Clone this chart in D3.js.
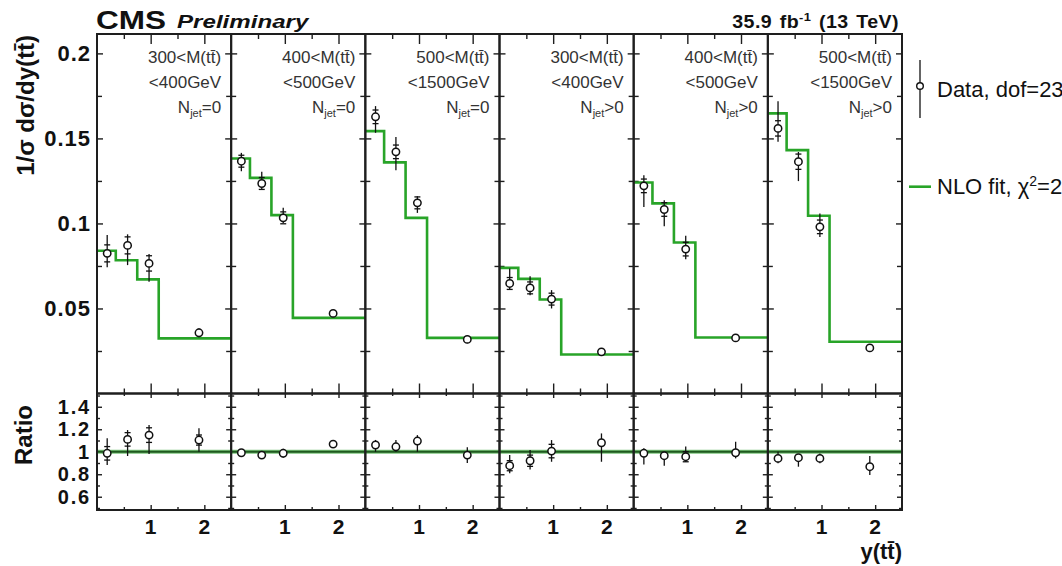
<!DOCTYPE html>
<html>
<head>
<meta charset="utf-8">
<script src="https://cdn.jsdelivr.net/npm/d3@7"></script>
<style>
  body { margin: 0; background: #fff; }
  svg { display: block; }
  text { font-family: "Liberation Sans", Arial, Helvetica, sans-serif; }
</style>
</head>
<body>
<svg id="chart" width="1062" height="566"></svg>
<script>
// ---- data -------------------------------------------------------------
// y(tt̄) bin edges and the positions of the measured points
const binEdges = [0, 0.35, 0.75, 1.15, 2.5];
const pointY = [0.19, 0.57, 0.97, 1.9];

// panel captions
const massLow = ["300", "400", "500", "300", "400", "500"];
const massHigh = ["400", "500", "1500", "400", "500", "1500"];
const njetCut = ["=0", "=0", "=0", ">0", ">0", ">0"];

// NLO fit, one value per bin
const fitValues = [
  [0.0839, 0.0784, 0.0671, 0.0324],
  [0.1382, 0.1268, 0.1049, 0.0445],
  [0.1543, 0.1359, 0.1033, 0.0327],
  [0.0739, 0.0674, 0.0553, 0.0229],
  [0.1241, 0.1118, 0.0888, 0.0329],
  [0.1647, 0.1431, 0.1045, 0.0304]
];

// measured normalised cross sections
const dataValues = [
  [0.0824, 0.0871, 0.0765, 0.0357],
  [0.1366, 0.1235, 0.1033, 0.0471],
  [0.1627, 0.1421, 0.1121, 0.0318],
  [0.0647, 0.0621, 0.0555, 0.0245],
  [0.1221, 0.1082, 0.0849, 0.0327],
  [0.1559, 0.1363, 0.0980, 0.0268]
];
const dataErrUp = [
  [0.0108, 0.0065, 0.0055, 0.0026],
  [0.0049, 0.0069, 0.0059, 0.0012],
  [0.0063, 0.0088, 0.0039, 0.0022],
  [0.0088, 0.0069, 0.0053, 0.0015],
  [0.0063, 0.0055, 0.0078, 0.0015],
  [0.0160, 0.0057, 0.0078, 0.0015]
];
const dataErrDown = [
  [0.0082, 0.0116, 0.0108, 0.0026],
  [0.0059, 0.0039, 0.0030, 0.0012],
  [0.0094, 0.0108, 0.0059, 0.0022],
  [0.0039, 0.0043, 0.0055, 0.0015],
  [0.0124, 0.0098, 0.0059, 0.0015],
  [0.0078, 0.0114, 0.0059, 0.0015]
];
const dataStat = [
  [0.0050, 0.0050, 0.0045, 0.0015],
  [0.0035, 0.0035, 0.0035, 0.0008],
  [0.0040, 0.0040, 0.0035, 0.0008],
  [0.0035, 0.0035, 0.0035, 0.0008],
  [0.0040, 0.0040, 0.0040, 0.0008],
  [0.0045, 0.0045, 0.0040, 0.0008]
];

// data / fit
const ratioValues = [
  [0.986, 1.110, 1.148, 1.104],
  [0.991, 0.970, 0.986, 1.068],
  [1.060, 1.044, 1.095, 0.970],
  [0.876, 0.920, 1.006, 1.080],
  [0.986, 0.965, 0.956, 0.991],
  [0.941, 0.947, 0.941, 0.867]
];
const ratioErrUp = [
  [0.133, 0.083, 0.089, 0.104],
  [0.030, 0.030, 0.040, 0.030],
  [0.045, 0.060, 0.053, 0.070],
  [0.095, 0.095, 0.098, 0.083],
  [0.045, 0.036, 0.090, 0.098],
  [0.060, 0.024, 0.044, 0.095]
];
const ratioErrDown = [
  [0.104, 0.148, 0.169, 0.104],
  [0.030, 0.030, 0.040, 0.030],
  [0.060, 0.045, 0.095, 0.070],
  [0.068, 0.077, 0.095, 0.169],
  [0.100, 0.090, 0.045, 0.050],
  [0.044, 0.080, 0.044, 0.074]
];
const ratioStat = [
  [0.060, 0.060, 0.065, 0.045],
  [0.025, 0.025, 0.035, 0.020],
  [0.030, 0.030, 0.035, 0.030],
  [0.045, 0.050, 0.060, 0.035],
  [0.030, 0.030, 0.045, 0.030],
  [0.030, 0.030, 0.035, 0.030]
];

// axis ticks
const mainMajor = [0.05, 0.1, 0.15, 0.2];
const mainMajorLabels = ["0.05", "0.1", "0.15", "0.2"];
const mainMinor = [0.025, 0.075, 0.125, 0.175];
const ratioMajor = [0.6, 0.8, 1.0, 1.2, 1.4];
const ratioMajorLabels = ["0.6", "0.8", "1", "1.2", "1.4"];
const ratioMinor = [0.5, 0.7, 0.9, 1.1, 1.3, 1.5];
const xMajor = [1, 2];
const xMajorLabels = ["1", "2"];
const xMinor = [0.5, 1.5];

// ---- layout -----------------------------------------------------------
const svg = d3.select("#chart");
const padLeft = 97, padRight = 902;
const padTop = 34, padMid = 393.5, padBottom = 510;
const nPanels = 6;
const pw = (padRight - padLeft) / nPanels;

const frameColor = "#1e1e1e";
const fitColor = "#28a428";

const yMain = d3.scaleLinear().domain([0, 0.2114]).range([padMid, padTop]);
const yRatio = d3.scaleLinear().domain([0.482, 1.518]).range([padBottom, padMid]);
const xPanel = i => d3.scaleLinear().domain([0, 2.5]).range([padLeft + i * pw, padLeft + (i + 1) * pw]);

// inward ticks drawn with d3 axis generators
function tickSet(axisFn, scale, values, size, tx, ty) {
  const g = svg.append("g").attr("transform", `translate(${tx},${ty})`)
    .call(axisFn(scale).tickValues(values).tickSize(size).tickFormat(""));
  g.select(".domain").remove();
  g.selectAll("line").attr("stroke", frameColor).attr("stroke-width", 1.4);
}

function drawPoints(x, y, vals, up, dn, stat) {
  const g = svg.append("g");
  vals.forEach((v, k) => {
    const px = x(pointY[k]);
    const py = y(v);
    g.append("line").attr("x1", px).attr("x2", px)
      .attr("y1", y(v + up[k])).attr("y2", y(v - dn[k]))
      .attr("stroke", "#111").attr("stroke-width", 1.3);
    const sU = y(v + stat[k]), sD = y(v - stat[k]);
    if (py - sU > 4.5) {
      [sU, sD].forEach(sy => g.append("line")
        .attr("x1", px - 3).attr("x2", px + 3).attr("y1", sy).attr("y2", sy)
        .attr("stroke", "#111").attr("stroke-width", 1.3));
    }
    g.append("circle").attr("cx", px).attr("cy", py).attr("r", 3.7)
      .attr("fill", "#fff").attr("stroke", "#111").attr("stroke-width", 1.5);
  });
}

for (let i = 0; i < nPanels; i++) {
  const x = xPanel(i);
  const x0 = x.range()[0], x1 = x.range()[1];

  // y ticks on both sides of each panel
  tickSet(d3.axisRight, yMain, mainMajor, 6, x0, 0);
  tickSet(d3.axisRight, yMain, mainMinor, 5, x0, 0);
  tickSet(d3.axisLeft, yMain, mainMajor, 6, x1, 0);
  tickSet(d3.axisLeft, yMain, mainMinor, 5, x1, 0);
  tickSet(d3.axisRight, yRatio, ratioMajor, 5, x0, 0);
  tickSet(d3.axisRight, yRatio, ratioMinor, 3, x0, 0);
  tickSet(d3.axisLeft, yRatio, ratioMajor, 5, x1, 0);
  tickSet(d3.axisLeft, yRatio, ratioMinor, 3, x1, 0);

  // x ticks
  tickSet(d3.axisBottom, x, xMajor, 10, 0, padTop);
  tickSet(d3.axisBottom, x, xMinor, 5, 0, padTop);
  tickSet(d3.axisTop, x, xMajor, 10, 0, padMid);
  tickSet(d3.axisTop, x, xMinor, 5, 0, padMid);
  tickSet(d3.axisBottom, x, xMajor, 4.5, 0, padMid);
  tickSet(d3.axisBottom, x, xMinor, 2.5, 0, padMid);
  tickSet(d3.axisTop, x, xMajor, 5, 0, padBottom);
  tickSet(d3.axisTop, x, xMinor, 3, 0, padBottom);

  // x tick labels
  svg.append("g").selectAll("text").data(xMajor).join("text")
    .attr("x", d => x(d)).attr("y", 534)
    .attr("text-anchor", "middle")
    .attr("font-size", 21).attr("font-weight", "bold").attr("fill", "#111")
    .text((d, k) => xMajorLabels[k]);

  // NLO fit as a step histogram
  const stepPts = binEdges.map((e, k) => [e, fitValues[i][Math.min(k, fitValues[i].length - 1)]]);
  svg.append("path")
    .attr("d", d3.line().x(d => x(d[0])).y(d => yMain(d[1])).curve(d3.curveStepAfter)(stepPts))
    .attr("fill", "none").attr("stroke", fitColor).attr("stroke-width", 2.6);

  // ratio reference line at unity
  svg.append("line")
    .attr("x1", x0).attr("x2", x1).attr("y1", yRatio(1)).attr("y2", yRatio(1))
    .attr("stroke", "#7cc47c").attr("stroke-width", 4);
  svg.append("line")
    .attr("x1", x0).attr("x2", x1).attr("y1", yRatio(1)).attr("y2", yRatio(1))
    .attr("stroke", "#1f5a1f").attr("stroke-width", 1.8);

  // data points with error bars
  drawPoints(x, yMain, dataValues[i], dataErrUp[i], dataErrDown[i], dataStat[i]);
  drawPoints(x, yRatio, ratioValues[i], ratioErrUp[i], ratioErrDown[i], ratioStat[i]);

  // caption
  const cap = svg.append("text").attr("text-anchor", "end")
    .attr("font-size", 17).attr("fill", "#333");
  const cx = x1 - 10;
  cap.append("tspan").attr("x", cx).attr("y", 63).text(massLow[i] + "<M(tt\u0304)");
  cap.append("tspan").attr("x", cx).attr("y", 87.5).text("<" + massHigh[i] + "GeV");
  const nl = svg.append("text").attr("text-anchor", "end")
    .attr("font-size", 17).attr("fill", "#333").attr("x", cx).attr("y", 112.5);
  nl.append("tspan").text("N");
  nl.append("tspan").attr("font-size", 11).attr("dy", 4).text("jet");
  nl.append("tspan").attr("dy", -4).text(njetCut[i]);
}

// y tick labels
svg.append("g").attr("transform", `translate(${padLeft},0)`)
  .call(d3.axisLeft(yMain).tickValues(mainMajor).tickSize(0).tickPadding(6)
    .tickFormat((d, k) => mainMajorLabels[k]))
  .call(g => g.select(".domain").remove())
  .selectAll("text").attr("font-size", 22).attr("font-weight", "bold")
  .attr("letter-spacing", 1)
  .attr("fill", "#111").attr("font-family", "Liberation Sans, Arial, sans-serif");

svg.append("g").attr("transform", `translate(${padLeft},0)`)
  .call(d3.axisLeft(yRatio).tickValues(ratioMajor).tickSize(0).tickPadding(6)
    .tickFormat((d, k) => ratioMajorLabels[k]))
  .call(g => g.select(".domain").remove())
  .selectAll("text").attr("font-size", 20).attr("font-weight", "bold")
  .attr("letter-spacing", 1.8)
  .attr("fill", "#111").attr("font-family", "Liberation Sans, Arial, sans-serif");

// frames
for (let i = 0; i < nPanels; i++) {
  const x0 = padLeft + i * pw;
  svg.append("rect").attr("x", x0).attr("y", padTop).attr("width", pw).attr("height", padMid - padTop)
    .attr("fill", "none").attr("stroke", frameColor).attr("stroke-width", 2);
  svg.append("rect").attr("x", x0).attr("y", padMid).attr("width", pw).attr("height", padBottom - padMid)
    .attr("fill", "none").attr("stroke", frameColor).attr("stroke-width", 2);
}

// axis titles
svg.append("text")
  .attr("transform", `translate(34,${padTop + 1}) rotate(-90)`)
  .attr("text-anchor", "end").attr("font-size", 24).attr("font-weight", "bold").attr("fill", "#111")
  .text("1/\u03c3 d\u03c3/dy(tt\u0304)");
svg.append("text")
  .attr("transform", `translate(32,435) rotate(-90)`)
  .attr("text-anchor", "middle").attr("font-size", 24).attr("font-weight", "bold").attr("fill", "#111")
  .text("Ratio");
svg.append("text")
  .attr("x", padRight).attr("y", 559).attr("text-anchor", "end")
  .attr("font-size", 22).attr("font-weight", "bold").attr("fill", "#111")
  .text("y(tt\u0304)");

// header
svg.append("text").attr("transform", "translate(96,29.3) scale(1.26,1)")
  .attr("font-size", 25).attr("font-weight", "bold").attr("fill", "#111").text("CMS");
svg.append("text").attr("transform", "translate(177,27.8) scale(1.27,1)")
  .attr("font-size", 19).attr("font-weight", "bold").attr("font-style", "italic").attr("fill", "#111")
  .text("Preliminary");
const lumi = svg.append("text").attr("transform", "translate(899,28) scale(1.12,1)")
  .attr("text-anchor", "end")
  .attr("font-size", 17.5).attr("font-weight", "bold").attr("fill", "#111")
  .attr("letter-spacing", 0.4).attr("word-spacing", 1.5);
lumi.append("tspan").text("35.9 fb");
lumi.append("tspan").attr("font-size", 11.5).attr("dy", -7).text("-1");
lumi.append("tspan").attr("dy", 7).text(" (13 TeV)");

// legend
const legX = 920;
svg.append("line").attr("x1", legX).attr("x2", legX).attr("y1", 60).attr("y2", 118)
  .attr("stroke", "#111").attr("stroke-width", 1.3);
svg.append("circle").attr("cx", legX).attr("cy", 86).attr("r", 3.3)
  .attr("fill", "#fff").attr("stroke", "#111").attr("stroke-width", 1.4);
svg.append("text").attr("x", 937).attr("y", 97).attr("font-size", 22).attr("fill", "#111")
  .text("Data, dof=23");
svg.append("line").attr("x1", 909).attr("x2", 931).attr("y1", 186.7).attr("y2", 186.7)
  .attr("stroke", fitColor).attr("stroke-width", 2.6);
const nlo = svg.append("text").attr("x", 937).attr("y", 194).attr("font-size", 22).attr("fill", "#111");
nlo.append("tspan").text("NLO fit, \u03c7");
nlo.append("tspan").attr("font-size", 14).attr("dy", -8).text("2");
nlo.append("tspan").attr("dy", 8).text("=22");
</script>
</body>
</html>
